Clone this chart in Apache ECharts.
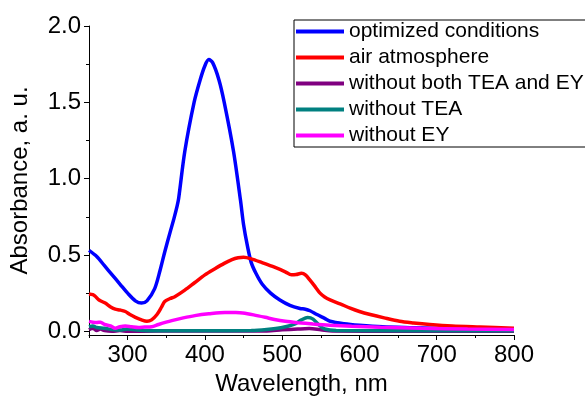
<!DOCTYPE html>
<html>
<head>
<meta charset="utf-8">
<script src="https://cdn.jsdelivr.net/npm/echarts@6/dist/echarts.min.js"></script>
<style>
  html, body { margin: 0; padding: 0; background: #fff; }
  #main { width: 585px; height: 401px; }
</style>
</head>
<body>
<div id="main"></div>
<script>
// spectra (wavelength in nm, absorbance in a. u.)
var wlOpt  = [250, 260, 270, 280, 290, 300, 310, 318, 325, 335, 342, 348, 355, 360, 364, 366, 374, 386, 394, 400, 405, 410, 418, 425, 437, 446, 450, 455, 460, 466, 474, 485, 497, 510, 523, 530, 536, 545, 555, 562, 580, 600, 630, 670, 720, 800];
var absOpt = [0.53, 0.49, 0.43, 0.37, 0.31, 0.25, 0.20, 0.185, 0.20, 0.28, 0.40, 0.52, 0.65, 0.74, 0.82, 0.87, 1.18, 1.50, 1.65, 1.74, 1.78, 1.76, 1.65, 1.50, 1.18, 0.86, 0.70, 0.56, 0.45, 0.38, 0.31, 0.25, 0.205, 0.17, 0.15, 0.145, 0.135, 0.11, 0.085, 0.066, 0.05, 0.04, 0.03, 0.024, 0.017, 0.012];

var wlAir  = [250, 255, 258, 263, 271, 278, 284, 290, 297, 303, 310, 318, 325, 331, 338, 344, 348, 355, 361, 374, 387, 400, 413, 425, 435, 443, 450, 460, 474, 490, 504, 512, 518, 525, 530, 536, 543, 549, 555, 562, 575, 588, 600, 614, 632, 652, 670, 691, 720, 756, 800];
var absAir = [0.245, 0.24, 0.23, 0.205, 0.185, 0.16, 0.145, 0.14, 0.13, 0.11, 0.092, 0.075, 0.066, 0.075, 0.11, 0.16, 0.195, 0.215, 0.227, 0.27, 0.32, 0.37, 0.41, 0.445, 0.47, 0.482, 0.485, 0.475, 0.45, 0.42, 0.39, 0.37, 0.372, 0.38, 0.37, 0.335, 0.29, 0.25, 0.225, 0.206, 0.18, 0.152, 0.13, 0.11, 0.088, 0.066, 0.055, 0.045, 0.035, 0.028, 0.02];

var wlBoth  = [250, 255, 260, 265, 270, 280, 290, 300, 340, 400, 480, 500, 520, 535, 550, 565, 650, 800];
var absBoth = [0.01, 0.02, 0.005, 0.015, 0.005, 0.0, 0.005, 0.0, 0.002, 0.002, 0.003, 0.01, 0.015, 0.018, 0.01, 0.002, 0.001, 0.0];

var wlTea  = [250, 255, 260, 270, 280, 290, 300, 310, 320, 340, 400, 460, 480, 500, 515, 525, 533, 540, 548, 555, 570, 800];
var absTea = [0.03, 0.035, 0.025, 0.02, 0.012, 0.008, 0.015, 0.01, 0.006, 0.004, 0.004, 0.005, 0.012, 0.025, 0.045, 0.075, 0.09, 0.08, 0.04, 0.015, 0.006, 0.004];

var wlEy  = [250, 255, 260, 265, 270, 278, 284, 290, 297, 305, 314, 322, 331, 340, 357, 372, 387, 405, 426, 440, 449, 463, 478, 490, 504, 520, 540, 562, 590, 627, 680, 740, 800];
var absEy = [0.065, 0.06, 0.058, 0.06, 0.045, 0.035, 0.02, 0.03, 0.035, 0.03, 0.025, 0.028, 0.03, 0.045, 0.07, 0.088, 0.103, 0.115, 0.124, 0.123, 0.12, 0.108, 0.092, 0.078, 0.066, 0.057, 0.048, 0.04, 0.033, 0.027, 0.02, 0.015, 0.012];

var names  = ['optimized conditions', 'air atmosphere', 'without both TEA and EY', 'without TEA', 'without EY'];
var colors = ['#0000ff', '#ff0000', '#800080', '#008080', '#ff00ff'];

var xMajor = [300, 400, 500, 600, 700, 800];
var xMinor = [250, 350, 450, 550, 650, 750];
var yMajor = [0, 0.5, 1.0, 1.5, 2.0];
var yMinor = [0.25, 0.75, 1.25, 1.75];

function pairs(xs, ys) {
    var out = [];
    for (var i = 0; i < xs.length; i++) out.push([xs[i], ys[i]]);
    return out;
}

var spectra = [
    pairs(wlOpt, absOpt),
    pairs(wlAir, absAir),
    pairs(wlBoth, absBoth),
    pairs(wlTea, absTea),
    pairs(wlEy, absEy)
];

var font = "'Liberation Sans', Arial, sans-serif";
var myChart = echarts.init(document.getElementById('main'));

var option = {
    animation: false,
    color: colors,
    textStyle: { fontFamily: font, color: '#000' },
    grid: { left: 89, right: 71, top: 26, bottom: 60, containLabel: false },
    legend: {
        data: names.map(function (n) { return { name: n, icon: 'rect' }; }),
        left: 294,
        top: 20,
        orient: 'vertical',
        itemWidth: 48,
        itemHeight: 4,
        itemGap: 5,
        padding: [1, 10, 1, 2],
        borderColor: '#000',
        borderWidth: 1,
        selectedMode: false,
        textStyle: { fontSize: 21, fontFamily: font, color: '#000', lineHeight: 21 }
    },
    xAxis: [
        {
            type: 'value',
            min: 250,
            max: 800,
            position: 'bottom',
            name: 'Wavelength, nm',
            nameLocation: 'middle',
            nameGap: 37,
            nameTextStyle: { fontSize: 24, fontFamily: font, color: '#000' },
            axisLine: { onZero: false, lineStyle: { color: '#000', width: 1 } },
            axisTick: { customValues: xMajor, length: 5, lineStyle: { color: '#000' } },
            axisLabel: { customValues: xMajor, fontSize: 24, fontFamily: font, color: '#000', margin: 8 },
            splitLine: { show: false }
        },
        {
            type: 'value',
            min: 250,
            max: 800,
            position: 'bottom',
            axisLine: { show: false, onZero: false },
            axisTick: { customValues: xMinor, length: 3, lineStyle: { color: '#000' } },
            axisLabel: { show: false },
            splitLine: { show: false }
        }
    ],
    yAxis: [
        {
            type: 'value',
            min: -0.024,
            max: 2.0,
            position: 'left',
            name: 'Absorbance, a. u.',
            nameLocation: 'middle',
            nameGap: 57,
            nameTextStyle: { fontSize: 24, fontFamily: font, color: '#000' },
            axisLine: { show: true, onZero: false, lineStyle: { color: '#000', width: 1 } },
            axisTick: { show: true, customValues: yMajor, length: 5, lineStyle: { color: '#000' } },
            axisLabel: {
                customValues: yMajor, fontSize: 24, fontFamily: font, color: '#000', margin: 8,
                formatter: function (v) { return v.toFixed(1); }
            },
            splitLine: { show: false }
        },
        {
            type: 'value',
            min: -0.024,
            max: 2.0,
            position: 'left',
            axisLine: { show: false, onZero: false },
            axisTick: { show: true, customValues: yMinor, length: 3, lineStyle: { color: '#000' } },
            axisLabel: { show: false },
            splitLine: { show: false }
        }
    ],
    series: names.map(function (n, i) {
        return {
            name: n,
            type: 'line',
            xAxisIndex: 0,
            yAxisIndex: 0,
            data: spectra[i],
            symbol: 'none',
            showSymbol: false,
            smooth: 0.3,
            lineStyle: { width: 3.5, color: colors[i] },
            itemStyle: { color: colors[i] }
        };
    })
};

myChart.setOption(option);
</script>
</body>
</html>
